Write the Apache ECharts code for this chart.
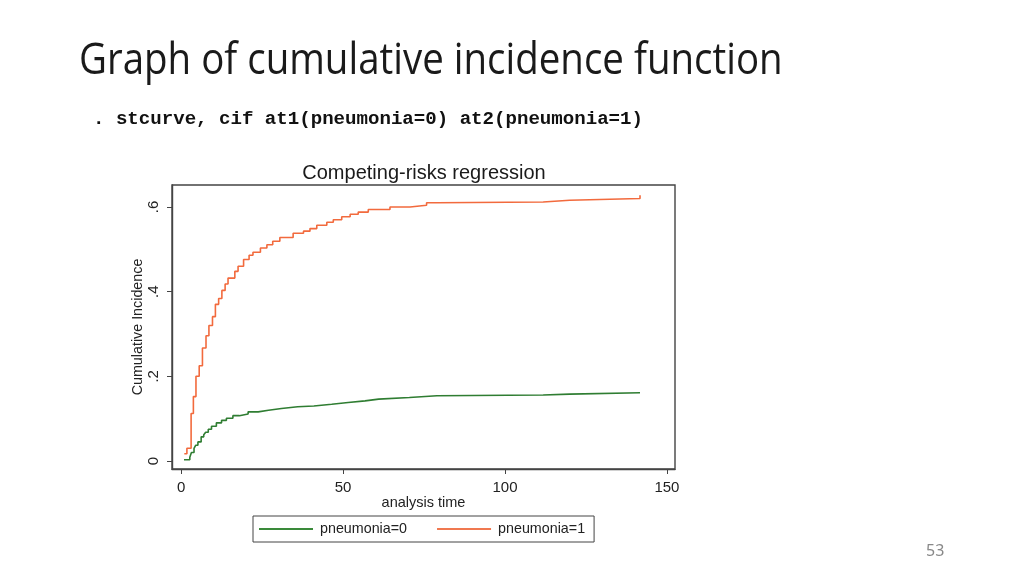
<!DOCTYPE html>
<html>
<head>
<meta charset="utf-8">
<script src="https://cdn.jsdelivr.net/npm/echarts@6/dist/echarts.min.js"></script>
<style>
  html, body { margin: 0; padding: 0; background: #fff; }
  #wrap { position: relative; width: 1024px; height: 575px; overflow: hidden; }
  #chart { position: absolute; left: 0; top: 0; width: 1024px; height: 575px; }
  .txt { position: absolute; white-space: nowrap; pointer-events: none; }
  #slideTitle { left: 79px; top: 32px; font-family: "Open Sans", "Noto Sans", sans-serif; font-size: 43px; color: #1a1a1a; transform-origin: 0 0; line-height: 1.2; }
  #cmd { left: 93px; top: 107px; font-family: "Liberation Mono", monospace; font-weight: bold; font-size: 19.1px; color: #111; line-height: 24px; }
  #pageNo { left: 926px; top: 539px; font-family: "Noto Sans", sans-serif; font-size: 16px; color: #888; }
</style>
</head>
<body>
<div id="wrap">
  <div id="chart"></div>
  <div class="txt" id="slideTitle">Graph of cumulative incidence function</div>
  <div class="txt" id="cmd">. stcurve, cif at1(pneumonia=0) at2(pneumonia=1)</div>
  <div class="txt" id="pageNo">53</div>
</div>
<script>
// cumulative incidence, pneumonia = 0
var time0 = [0.9, 2.7, 3.2, 4.0, 4.5, 5.2, 6.2, 7.0, 7.6, 8.4, 9.4, 10.9, 12.5, 14.0, 16.0, 18.0, 20.7, 23.8, 27.0, 31.0, 36.0, 41.0, 46.5, 51.6, 56.8, 61.0, 70.5, 79.0, 111.8, 120.0, 141.7];
var cif0  = [0.003, 0.009, 0.020, 0.030, 0.037, 0.045, 0.057, 0.062, 0.068, 0.075, 0.082, 0.090, 0.096, 0.101, 0.107, 0.111, 0.116, 0.120, 0.124, 0.128, 0.130, 0.134, 0.138, 0.142, 0.146, 0.150, 0.154, 0.156, 0.158, 0.161, 0.161];

// cumulative incidence, pneumonia = 1
var time1 = [1.0, 1.8, 3.1, 3.8, 4.6, 5.6, 6.6, 7.7, 8.6, 9.7, 10.6, 11.6, 12.6, 13.6, 14.5, 16.6, 17.6, 19.3, 21.0, 22.2, 24.5, 26.5, 28.3, 30.5, 34.6, 37.8, 39.8, 41.9, 45.0, 47.0, 49.6, 52.2, 54.7, 57.8, 64.5, 70.7, 75.8, 79.0, 111.8, 120.0, 141.7, 141.7];
var cif1  = [0.017, 0.030, 0.112, 0.152, 0.200, 0.225, 0.267, 0.296, 0.320, 0.341, 0.370, 0.384, 0.403, 0.418, 0.432, 0.448, 0.460, 0.476, 0.486, 0.493, 0.503, 0.511, 0.519, 0.528, 0.538, 0.543, 0.549, 0.557, 0.564, 0.570, 0.577, 0.583, 0.588, 0.594, 0.600, 0.604, 0.610, 0.612, 0.616, 0.620, 0.620, 0.628];

var xTicks = [0, 50, 100, 150];
var yTicks = [0, 0.2, 0.4, 0.6];
var seriesNames = ['pneumonia=0', 'pneumonia=1'];

// squeeze the slide title to the reference width
var st = document.getElementById('slideTitle');
st.style.transform = 'scaleX(' + (704 / st.offsetWidth) + ')';

function pairs(t, v) {
    var res = [];
    for (var i = 0; i < t.length; i++) res.push([t[i], v[i]]);
    return res;
}

var myChart = echarts.init(document.getElementById('chart'));
var font = '"Liberation Sans", Arial, sans-serif';
var frame = '#444';

var option = {
    animation: false,
    title: {
        text: 'Competing-risks regression',
        left: 419, top: 158, textAlign: 'center',
        textStyle: { fontFamily: font, fontSize: 20, fontWeight: 'normal', color: '#1a1a1a' }
    },
    grid: {
        left: 172, top: 185, width: 503, height: 284,
        show: true, borderColor: frame, borderWidth: 1.4
    },
    legend: {
        data: seriesNames,
        icon: 'rect',
        left: 253, top: 516,
        padding: [6, 9, 6, 6],
        itemWidth: 54, itemHeight: 2, itemGap: 30,
        borderColor: frame, borderWidth: 1,
        textStyle: { fontFamily: font, fontSize: 14.3, color: '#222', padding: [0, 0, 0, 2] }
    },
    xAxis: {
        type: 'value', min: -2.8, max: 152.5,
        name: 'analysis time', nameLocation: 'middle', nameGap: 25,
        nameTextStyle: { fontFamily: font, fontSize: 14.5, color: '#222' },
        axisLine: { show: true, onZero: false, lineStyle: { color: frame, width: 1.4 } },
        axisTick: { show: true, length: 5, customValues: xTicks, lineStyle: { color: frame } },
        axisLabel: { customValues: xTicks, margin: 11, fontFamily: font, fontSize: 15, color: '#222' },
        splitLine: { show: false }
    },
    yAxis: {
        type: 'value', min: -0.019, max: 0.652,
        name: 'Cumulative Incidence', nameLocation: 'middle', nameGap: 26,
        nameTextStyle: { fontFamily: font, fontSize: 14.3, color: '#222' },
        axisLine: { show: true, onZero: false, lineStyle: { color: frame, width: 1.4 } },
        axisTick: { show: true, length: 5, customValues: yTicks, lineStyle: { color: frame } },
        axisLabel: {
            customValues: yTicks, rotate: 90, margin: 11,
            fontFamily: font, fontSize: 15, color: '#222',
            formatter: function (v) { return v === 0 ? '0' : String(v).replace(/^0/, ''); }
        },
        splitLine: { show: false }
    },
    series: [
        {
            name: seriesNames[0], type: 'line', step: 'end', symbol: 'none',
            data: pairs(time0, cif0),
            lineStyle: { color: '#2f7d32', width: 1.6 },
            itemStyle: { color: '#3a8a3a' }
        },
        {
            name: seriesNames[1], type: 'line', step: 'end', symbol: 'none',
            data: pairs(time1, cif1),
            lineStyle: { color: '#f26a3d', width: 1.6 },
            itemStyle: { color: '#f07850' }
        }
    ]
};

myChart.setOption(option);
window.addEventListener("resize", function () {
    myChart.resize();
});
</script>
</body>
</html>
